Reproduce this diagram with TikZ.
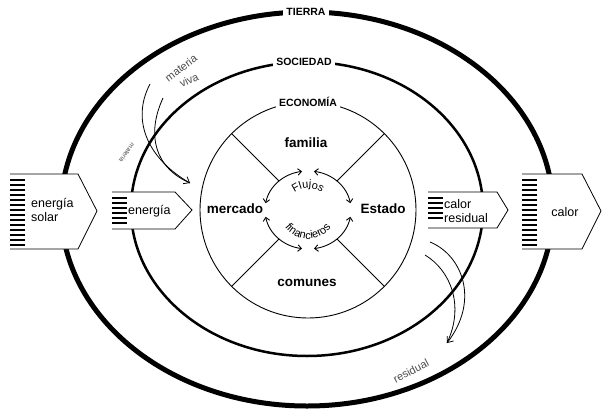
\documentclass[tikz,border=0pt]{standalone}
\usepackage{fontspec}
\setmainfont{Liberation Sans}
\usetikzlibrary{arrows.meta,decorations.text}

\begin{document}
\begin{tikzpicture}[x=1pt, y=-1pt,
    ringlabel/.style={fill=white, inner sep=3pt,
        font=\bfseries\fontsize{10.5}{12}\selectfont},
    sector/.style={font=\bfseries\fontsize{13.5}{15}\selectfont},
    flow/.style={line width=0.9pt,
        {Straight Barb[length=3.5pt,width=6.5pt]}-{Straight Barb[length=3.5pt,width=6.5pt]}},
    flux/.style={draw=black, line width=0.8pt},
    stripe/.style={line width=1.6pt},
    tag/.style={inner sep=0pt, align=left,
        font=\fontsize{12.5}{14}\selectfont},
    note/.style={text=black!70, inner sep=0pt,
        font=\fontsize{11}{12}\selectfont},
    feed/.style={line width=0.8pt}
]
    \useasboundingbox (0,0) rectangle (602,415);

    % rings
    \coordinate (fc) at (308,210);
    \draw[line width=5pt] (307,209) ellipse [x radius=246, y radius=197];
    \draw[line width=2.5pt] (307,209) ellipse [x radius=176, y radius=147];
    \draw[line width=0.9pt] (fc) circle [radius=108];
    \foreach \a in {45,135,225,315}
        \draw[line width=0.9pt] ([shift={(\a:41)}]fc) -- ([shift={(\a:108)}]fc);

    % flujos financieros
    \foreach \s/\e in {-170/-98, -82/-10, 10/82, 98/170}
        \draw[flow] ([shift={(\s:43 and 39)}]fc)
            arc [start angle=\s, end angle=\e, x radius=43, y radius=39];
    \path[decorate, decoration={text along path, text align=center,
        text={|\fontsize{11}{12}\selectfont|Flujos}}]
        ([shift={(-150:22)}]fc) arc [start angle=-150, end angle=-30, radius=22];
    \path[decorate, decoration={text along path, text align=center,
        text={|\fontsize{11}{12}\selectfont|financieros}}]
        ([shift={(165:29)}]fc) arc [start angle=165, end angle=15, radius=29];

    \node[ringlabel] (tierra) at (306,12) {TIERRA};
    \node[ringlabel] (sociedad) at (304,62) {SOCIEDAD};
    \node[ringlabel] (economia) at (308,102) {ECONOMÍA};

    \node[sector] (familia) at (306,143) {familia};
    \node[sector] (mercado) at (235,209) {mercado};
    \node[sector] (estado) at (383,209) {Estado};
    \node[sector] (comunes) at (307,283) {comunes};

    % energy in
    \fill[white] (10,174) -- (78,174) -- (97,211) -- (78,249) -- (10,249) -- cycle;
    \draw[flux] (10,174) -- (78,174) -- (97,211) -- (78,249) -- (10,249);
    \foreach \y in {180,185,...,245}
        \draw[stripe] (10,\y) -- (25,\y);
    \node[tag, anchor=west] (solar) at (31,210) {energía\\solar};

    \fill[white] (112,192) -- (175,192) -- (192,210) -- (175,229) -- (112,229) -- cycle;
    \draw[flux] (112,192) -- (175,192) -- (192,210) -- (175,229) -- (112,229);
    \foreach \y in {198,203,...,223}
        \draw[stripe] (112,\y) -- (127,\y);
    \node[tag, anchor=west] (energia) at (128,211) {energía};

    % heat out
    \fill[white] (428,192) -- (497,192) -- (508,210) -- (497,228) -- (428,228) -- cycle;
    \draw[flux] (428,192) -- (497,192) -- (508,210) -- (497,228) -- (428,228);
    \foreach \y in {198,203,...,218}
        \draw[stripe] (428,\y) -- (443,\y);
    \node[tag, anchor=west] (residual) at (444,211) {calor\\residual};

    \fill[white] (522,174) -- (582,174) -- (601,211) -- (582,249) -- (522,249) -- cycle;
    \draw[flux] (522,174) -- (582,174) -- (601,211) -- (582,249) -- (522,249);
    \foreach \y in {180,185,...,245}
        \draw[stripe] (522,\y) -- (537,\y);
    \node[tag] (calor) at (565,212) {calor};

    % materia viva
    \coordinate (mv1) at (150,84);
    \coordinate (mv2) at (163,98);
    \coordinate (mvtip) at (190,183);
    \draw[feed, -{Straight Barb[length=5pt,width=8pt]}] (mv1)
        .. controls (130,122) and (150,160) .. (mvtip);
    \draw[feed] (mv2) .. controls (146,135) and (155,168) .. (mvtip);
    \node[note, rotate=37] (materia) at (181,68) {materia};
    \node[note, rotate=25] (viva) at (189,80) {viva};
    \node[note, rotate=-125, font=\fontsize{6.5}{7}\selectfont] (materiab) at (127,153) {materia};

    % residual
    \coordinate (rs1) at (430,242);
    \coordinate (rs2) at (425,255);
    \coordinate (rstip) at (447,343);
    \draw[feed, -{Straight Barb[length=5pt,width=8pt]}] (rs1)
        .. controls (462,255) and (480,300) .. (rstip);
    \draw[feed] (rs2) .. controls (450,270) and (465,305) .. (rstip);
    \node[note, rotate=28] (residuo) at (411,371) {residual};
\end{tikzpicture}
\end{document}
